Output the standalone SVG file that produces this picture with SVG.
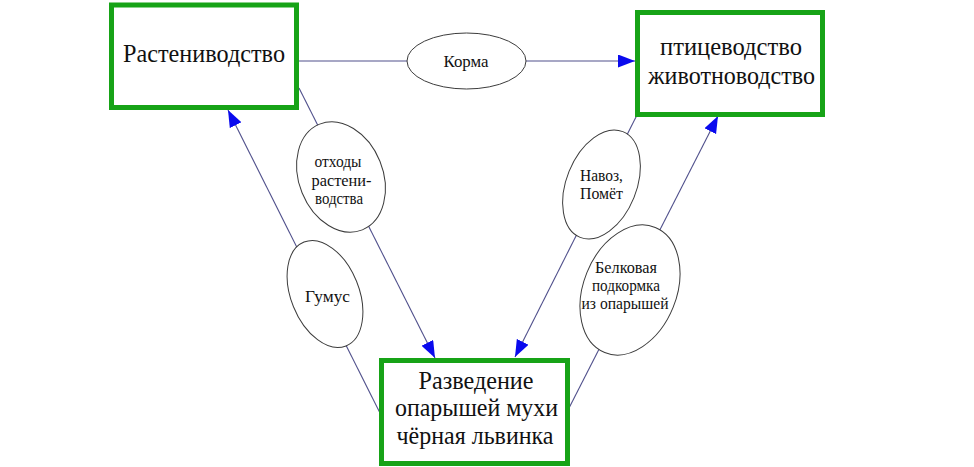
<svg xmlns="http://www.w3.org/2000/svg" width="974" height="467" viewBox="0 0 974 467">
<style>
.box{fill:#fff;stroke:#17a317;stroke-width:5}
.lbl{fill:#fff;stroke:#3c3c3c;stroke-width:1}
.edge{fill:none;stroke:#50508c;stroke-width:1.1}
.bt{font-size:26px;fill:#111;text-anchor:middle}
.st{font-size:17px;fill:#111;text-anchor:middle}
</style>
<defs>
<marker id="ah" markerUnits="userSpaceOnUse" markerWidth="18" markerHeight="14" refX="17" refY="6.5" orient="auto">
<path d="M0,0 L17,6.5 L0,13 Z" fill="#0a0aee"/>
</marker>
</defs>
<rect width="974" height="467" fill="#fff"/>
<g id="connectors">
<path class="edge" d="M298,61 H635" marker-end="url(#ah)"/>
<path class="edge" d="M299,88 L435,358" marker-end="url(#ah)"/>
<path class="edge" d="M380,413 L228,110" marker-end="url(#ah)"/>
<path class="edge" d="M637,115 L515,357" marker-end="url(#ah)"/>
<path class="edge" d="M568,410 L718,116" marker-end="url(#ah)"/>
</g>
<g id="edge-labels" font-family="Times New Roman, Liberation Serif, DejaVu Serif, serif">
<g id="lbl-korma">
<ellipse class="lbl" cx="466.5" cy="61" rx="59.5" ry="28"/>
<text class="st" x="466" y="67" textLength="45" lengthAdjust="spacingAndGlyphs">Корма</text>
</g>
<g id="lbl-othody">
<ellipse class="lbl" cx="341" cy="177" rx="42" ry="57" transform="rotate(-22 341 177)"/>
<text class="st" x="338" y="167" textLength="47" lengthAdjust="spacingAndGlyphs">отходы</text>
<text class="st" x="341.5" y="186" textLength="60" lengthAdjust="spacingAndGlyphs">растени-</text>
<text class="st" x="339" y="204" textLength="48" lengthAdjust="spacingAndGlyphs">водства</text>
</g>
<g id="lbl-gumus">
<ellipse class="lbl" cx="325" cy="294" rx="34" ry="56" transform="rotate(-22 325 294)"/>
<text class="st" x="327.5" y="302" textLength="45" lengthAdjust="spacingAndGlyphs">Гумус</text>
</g>
<g id="lbl-navoz">
<ellipse class="lbl" cx="601.5" cy="184.5" rx="35" ry="57" transform="rotate(22 601.5 184.5)"/>
<text class="st" x="601.5" y="181" textLength="43" lengthAdjust="spacingAndGlyphs">Навоз,</text>
<text class="st" x="601.5" y="199" textLength="43" lengthAdjust="spacingAndGlyphs">Помёт</text>
</g>
<g id="lbl-belok">
<ellipse class="lbl" cx="630" cy="290" rx="46.5" ry="67.5" transform="rotate(22 630 290)"/>
<text class="st" x="626" y="273" textLength="62" lengthAdjust="spacingAndGlyphs">Белковая</text>
<text class="st" x="626" y="290.5" textLength="68" lengthAdjust="spacingAndGlyphs">подкормка</text>
<text class="st" x="625" y="308.5" textLength="87" lengthAdjust="spacingAndGlyphs">из опарышей</text>
</g>
</g>
<g id="node-rastenievodstvo" font-family="Times New Roman, Liberation Serif, DejaVu Serif, serif">
<rect class="box" x="111.5" y="5" width="185" height="102.5"/>
<text class="bt" x="204" y="62" textLength="162" lengthAdjust="spacingAndGlyphs">Растениводство</text>
</g>
<g id="node-zhivotnovodstvo" font-family="Times New Roman, Liberation Serif, DejaVu Serif, serif">
<rect class="box" x="637.5" y="12.5" width="185" height="102"/>
<text class="bt" x="731" y="55" textLength="142" lengthAdjust="spacingAndGlyphs">птицеводство</text>
<text class="bt" x="731.5" y="83.5" textLength="167" lengthAdjust="spacingAndGlyphs">животноводство</text>
</g>
<g id="node-razvedenie" font-family="Times New Roman, Liberation Serif, DejaVu Serif, serif">
<rect class="box" x="381.5" y="360.5" width="186" height="103"/>
<text class="bt" x="476" y="388.5" textLength="115" lengthAdjust="spacingAndGlyphs">Разведение</text>
<text class="bt" x="476.5" y="415.5" textLength="163" lengthAdjust="spacingAndGlyphs">опарышей мухи</text>
<text class="bt" x="475" y="443.5" textLength="157" lengthAdjust="spacingAndGlyphs">чёрная львинка</text>
</g>
</svg>
